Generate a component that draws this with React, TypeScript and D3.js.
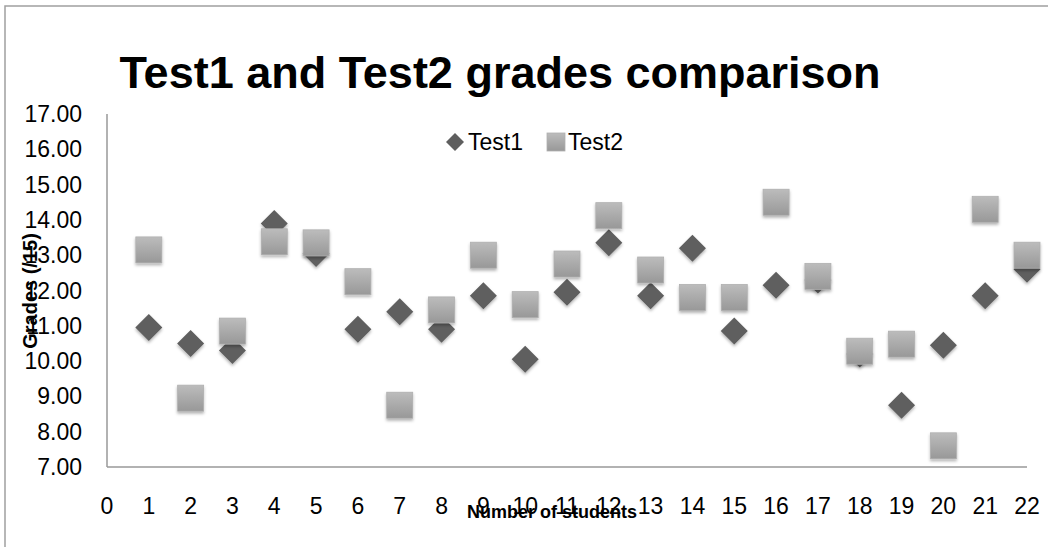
import React from 'react';
import * as d3 from 'd3';

// Student numbers and the two test grades
const STUDENTS = [1, 2, 3, 4, 5, 6, 7, 8, 9, 10, 11, 12, 13, 14, 15, 16, 17, 18, 19, 20, 21, 22];
const TEST1 = [10.95, 10.5, 10.3, 13.9, 13.05, 10.9, 11.4, 10.9, 11.85, 10.05, 11.95, 13.35, 11.85, 13.2, 10.85, 12.15, 12.3, 10.2, 8.75, 10.45, 11.85, 12.6];
const TEST2 = [13.15, 8.95, 10.85, 13.38, 13.35, 12.25, 8.75, 11.45, 13.0, 11.6, 12.75, 14.12, 12.58, 11.8, 11.8, 14.5, 12.4, 10.28, 10.48, 7.6, 14.3, 13.0];
const X_TICKS = d3.range(0, 23);
const Y_TICKS = d3.range(7, 18);

const W = 1048;
const H = 547;
const FONT = '"Liberation Sans", Arial, sans-serif';

export default function App() {
  const x = d3.scaleLinear().domain([0, 22]).range([107, 1027]);
  const y = d3.scaleLinear().domain([7, 17]).range([467, 114]);

  const sq = 26;
  const dm = 13.5;
  const diamond = (cx: number, cy: number, r: number) =>
    `M${cx},${cy - r}L${cx + r},${cy}L${cx},${cy + r}L${cx - r},${cy}Z`;

  return (
    <svg width={W} height={H} style={{ position: 'fixed', left: 0, top: 0 }}>
      <defs>
        <linearGradient id='sqGrad' x1='0' y1='0' x2='0' y2='1'>
          <stop offset='0%' stopColor='#bcbcbc' />
          <stop offset='100%' stopColor='#989898' />
        </linearGradient>
        <filter id='shadow' x='-30%' y='-30%' width='160%' height='170%'>
          <feDropShadow dx='0' dy='2' stdDeviation='1.5' floodColor='#000' floodOpacity='0.3' />
        </filter>
      </defs>
      <rect x={0} y={0} width={W} height={H} fill='#fff' />
      {/* outer frame */}
      <path d={`M5,${H}V6H${W}`} fill='none' stroke='#a0a0a0' strokeWidth={1.5} />

      <text x={500} y={88} textAnchor='middle' fontFamily={FONT} fontWeight='bold' fontSize={45} fill='#000'>
        Test1 and Test2 grades comparison
      </text>

      {/* axes */}
      <line x1={x(0)} x2={x(0)} y1={y(17)} y2={y(7)} stroke='#999' strokeWidth={1.5} />
      <line x1={x(0)} x2={x(22)} y1={y(7)} y2={y(7)} stroke='#999' strokeWidth={1.5} />

      {Y_TICKS.map(t => (
        <text key={t} x={82} y={y(t)} dy='0.35em' textAnchor='end' fontFamily={FONT} fontSize={23} fill='#000'>
          {t.toFixed(2)}
        </text>
      ))}
      {X_TICKS.map(t => (
        <text key={t} x={x(t)} y={514} textAnchor='middle' fontFamily={FONT} fontSize={23} fill='#000'>
          {t}
        </text>
      ))}

      {/* Test1 diamonds */}
      <g filter='url(#shadow)'>
        {STUDENTS.map((s, i) => (
          <path key={s} d={diamond(x(s), y(TEST1[i]), dm)} fill='#5e5e5e' />
        ))}
      </g>
      {/* Test2 squares */}
      <g filter='url(#shadow)'>
        {STUDENTS.map((s, i) => (
          <rect key={s} x={x(s) - sq / 2} y={y(TEST2[i]) - sq / 2} width={sq} height={sq}
            fill='url(#sqGrad)' stroke='#b0b0b0' strokeWidth={0.8} />
        ))}
      </g>

      {/* legend */}
      <path d={diamond(455, 142, 9)} fill='#5e5e5e' />
      <text x={468} y={142} dy='0.35em' fontFamily={FONT} fontSize={23} fill='#000'>Test1</text>
      <rect x={547} y={133} width={18} height={18} fill='url(#sqGrad)' stroke='#b0b0b0' strokeWidth={0.8} />
      <text x={568} y={142} dy='0.35em' fontFamily={FONT} fontSize={23} fill='#000'>Test2</text>

      {/* axis titles */}
      <text x={552} y={518} textAnchor='middle' fontFamily={FONT} fontWeight='bold' fontSize={18} fill='#000'>
        Number of students
      </text>
      <text transform='translate(37,291) rotate(-90)' textAnchor='middle' fontFamily={FONT} fontWeight='bold' fontSize={20} fill='#000'>
        Grades (/15)
      </text>
    </svg>
  );
}
